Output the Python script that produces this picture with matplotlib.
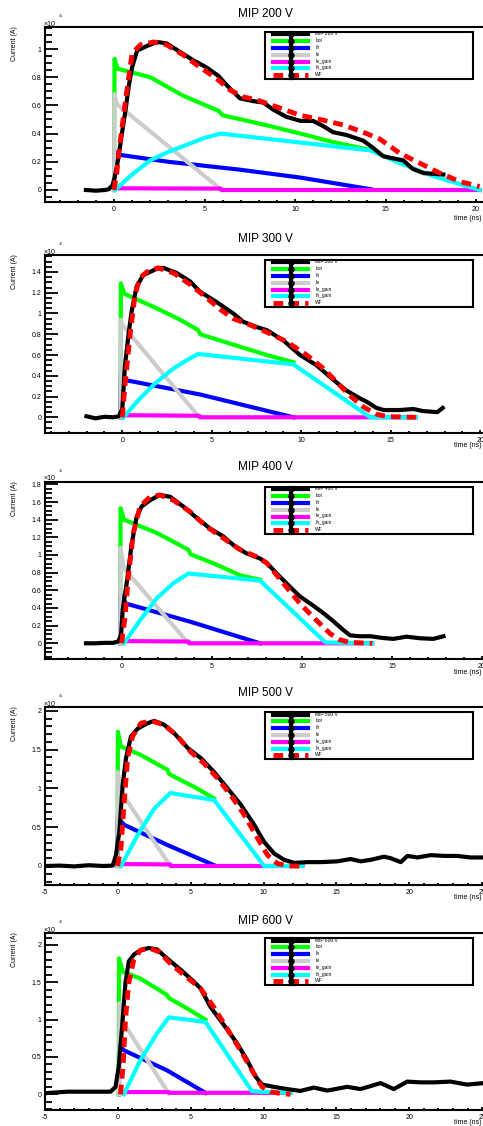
import matplotlib
matplotlib.use('Agg')
import matplotlib.pyplot as plt
from matplotlib.ticker import MultipleLocator, AutoMinorLocator, FuncFormatter
from matplotlib.lines import Line2D
from matplotlib.patches import Rectangle

plt.rcParams['font.family'] = ['Liberation Sans', 'DejaVu Sans']
plt.rcParams['axes.unicode_minus'] = False

# ---------------- data (time in ns, current in 1e-6 A) ----------------
legend_labels = ['Itot', 'Ih', 'Ie', 'Ie_gain', 'Ih_gain', 'WF']

# 200 V
mip200_t = [-1.55, -1.0, -0.5, -0.3, -0.1, 0.0, 0.15, 0.28, 0.45, 0.64, 0.82, 1.0, 1.28, 1.8, 2.36, 2.9, 3.64, 4.38, 5.1,
            5.76, 6.4, 6.96, 7.7, 8.25, 8.8, 9.5, 10.3, 11.0, 11.6, 12.1, 12.85, 13.77, 14.3, 14.87, 15.2, 15.98, 16.5,
            17.1, 17.6, 18.2]
mip200_v = [0.0, -0.005, 0.0, 0.005, 0.03, 0.07, 0.16, 0.26, 0.41, 0.57, 0.74, 0.87, 0.99, 1.02, 1.05, 1.04, 0.98, 0.92,
            0.87, 0.81, 0.72, 0.65, 0.63, 0.62, 0.57, 0.52, 0.49, 0.49, 0.45, 0.41, 0.39, 0.35, 0.30, 0.24, 0.23, 0.21,
            0.15, 0.12, 0.115, 0.11]
wf200_t = [0.0, 0.15, 0.33, 0.64, 1.0, 1.46, 2.2, 2.9, 3.8, 4.7, 5.67, 6.4, 7.15, 7.88, 8.98, 10.28, 11.4, 12.7, 13.96,
           14.7, 15.8, 16.9, 18.0, 19.1, 20.2]
wf200_v = [0.0, 0.12, 0.33, 0.64, 0.97, 1.03, 1.05, 1.03, 0.96, 0.875, 0.79, 0.71, 0.66, 0.64, 0.59, 0.53, 0.50, 0.46,
           0.40, 0.36, 0.26, 0.19, 0.12, 0.06, 0.025]
itot200_t = [0.0, 0.03, 0.2, 2.0, 3.8, 5.8, 6.0, 8.4, 10.3, 12.1, 14.3]
itot200_v = [0.0, 0.93, 0.86, 0.80, 0.67, 0.56, 0.53, 0.46, 0.40, 0.34, 0.28]
ih200_t = [0.0, 0.03, 0.28, 3.0, 6.9, 10.3, 14.2]
ih200_v = [0.0, 0.27, 0.25, 0.20, 0.145, 0.088, 0.005]
ie200_t = [0.0, 0.03, 0.15, 5.95]
ie200_v = [0.0, 0.68, 0.61, 0.0]
iegain200_t = [0.1, 5.9, 5.95, 20.2]
iegain200_v = [0.012, 0.01, 0.0, 0.0]
ihgain200_t = [0.05, 1.0, 2.0, 3.0, 4.0, 5.0, 5.9, 14.2, 15.8, 17.6, 20.2]
ihgain200_v = [0.0, 0.11, 0.21, 0.27, 0.32, 0.37, 0.40, 0.28, 0.19, 0.10, 0.0]

# 300 V
mip300_t = [-2.0, -1.5, -1.0, -0.5, -0.2, 0.0, 0.15, 0.35, 0.52, 0.8, 1.17, 1.92, 2.29, 3.04, 3.78, 4.34, 5.27, 6.2,
            6.76, 7.5, 8.07, 9.0, 9.93, 10.86, 11.8, 12.5, 13.3, 13.65, 14.2, 14.6, 15.5, 16.26, 16.8, 17.6, 17.9]
mip300_v = [0.01, -0.01, 0.005, 0.0, 0.01, 0.08, 0.50, 0.80, 1.02, 1.26, 1.37, 1.43, 1.44, 1.39, 1.31, 1.21, 1.11, 1.0,
            0.92, 0.87, 0.84, 0.74, 0.60, 0.50, 0.36, 0.26, 0.18, 0.15, 0.09, 0.07, 0.07, 0.08, 0.06, 0.05, 0.09]
wf300_t = [0.0, 0.15, 0.43, 0.71, 0.98, 1.36, 2.0, 2.86, 3.78, 4.72, 5.46, 6.2, 7.13, 8.07, 9.18, 10.3, 11.24, 11.98,
           12.7, 13.47, 14.2, 14.8, 16.4]
wf300_v = [0.0, 0.31, 0.79, 1.18, 1.34, 1.40, 1.44, 1.39, 1.28, 1.15, 1.04, 0.95, 0.89, 0.82, 0.73, 0.60, 0.47, 0.34,
           0.21, 0.10, 0.03, 0.007, 0.0]
itot300_t = [-0.1, -0.08, 0.12, 1.92, 3.23, 4.24, 4.35, 6.2, 8.07, 9.56]
itot300_v = [0.0, 1.29, 1.19, 1.05, 0.94, 0.84, 0.80, 0.70, 0.60, 0.53]
ih300_t = [-0.1, -0.08, 0.12, 4.34, 9.56]
ih300_v = [0.0, 0.42, 0.36, 0.22, 0.0]
ie300_t = [-0.1, -0.08, 0.0, 4.3]
ie300_v = [0.0, 0.94, 0.89, 0.0]
iegain300_t = [0.1, 4.3, 4.35, 16.4]
iegain300_v = [0.02, 0.015, 0.0, 0.0]
ihgain300_t = [0.06, 0.98, 1.92, 2.86, 3.6, 4.24, 9.56, 13.85, 16.4]
ihgain300_v = [0.0, 0.18, 0.34, 0.47, 0.55, 0.61, 0.51, 0.0, 0.0]

# 400 V
mip400_t = [-2.0, -1.5, -1.0, -0.5, -0.2, -0.05, 0.04, 0.26, 0.54, 0.81, 1.09, 1.56, 2.1, 2.67, 3.4, 4.15, 4.89, 5.63,
            6.2, 6.9, 7.67, 8.04, 8.6, 9.33, 9.89, 10.6, 11.2, 11.74, 12.3, 12.67, 13.2, 13.8, 14.5, 15.07, 15.8, 16.56,
            17.3, 17.86]
mip400_v = [0.0, 0.0, 0.005, 0.005, 0.02, 0.1, 0.38, 0.68, 1.13, 1.43, 1.55, 1.62, 1.68, 1.66, 1.55, 1.42, 1.30, 1.21,
            1.11, 1.02, 0.96, 0.91, 0.79, 0.64, 0.53, 0.43, 0.34, 0.25, 0.15, 0.09, 0.08, 0.08, 0.06, 0.05, 0.075, 0.057,
            0.05, 0.08]
wf400_t = [-0.02, 0.17, 0.35, 0.63, 1.0, 1.56, 2.1, 2.85, 3.78, 4.7, 5.63, 6.56, 7.48, 8.04, 8.96, 9.89, 10.8, 11.56,
           12.1, 12.67, 13.9]
wf400_v = [0.0, 0.30, 0.75, 1.25, 1.55, 1.66, 1.68, 1.62, 1.49, 1.32, 1.19, 1.06, 0.98, 0.91, 0.68, 0.45, 0.26, 0.11,
           0.04, 0.01, 0.0]
itot400_t = [-0.1, -0.08, 0.11, 1.93, 3.69, 3.8, 5.26, 6.56, 7.67]
itot400_v = [0.0, 1.53, 1.40, 1.25, 1.06, 1.01, 0.89, 0.77, 0.72]
ih400_t = [-0.1, -0.08, 0.22, 3.78, 7.67]
ih400_v = [0.0, 0.55, 0.45, 0.245, 0.0]
ie400_t = [-0.1, -0.08, 0.11, 3.69]
ie400_v = [0.0, 1.08, 0.85, 0.0]
iegain400_t = [0.1, 3.7, 3.75, 13.9]
iegain400_v = [0.025, 0.02, 0.0, 0.0]
ihgain400_t = [0.11, 1.0, 1.93, 2.85, 3.69, 7.67, 11.3, 13.9]
ihgain400_v = [0.0, 0.26, 0.51, 0.68, 0.79, 0.71, 0.01, 0.0]

# 500 V
mip500_t = [-4.93, -4.0, -3.0, -2.0, -1.0, -0.35, -0.13, 0.1, 0.33, 0.56, 0.9, 1.36, 2.04, 2.5, 3.18, 3.87, 4.8, 5.7,
            6.61, 7.53, 8.44, 9.36, 10.04, 10.73, 11.42, 12.1, 13.02, 13.93, 15.07, 15.98, 16.67, 17.36, 18.27, 18.73,
            19.42, 19.87, 20.56, 21.47, 22.4, 23.3, 24.2, 25.1]
mip500_v = [0.0, 0.005, -0.005, 0.01, 0.0, 0.005, 0.14, 0.44, 1.04, 1.39, 1.67, 1.77, 1.84, 1.87, 1.82, 1.71, 1.52,
            1.39, 1.21, 1.0, 0.79, 0.53, 0.31, 0.16, 0.08, 0.04, 0.05, 0.05, 0.06, 0.09, 0.06, 0.08, 0.12, 0.10, 0.05,
            0.13, 0.11, 0.14, 0.13, 0.13, 0.11, 0.11]
wf500_t = [-0.02, 0.21, 0.44, 0.67, 1.01, 1.58, 2.27, 3.18, 4.1, 5.0, 5.93, 6.84, 7.76, 8.67, 9.58, 10.27, 10.96,
           11.87, 12.67]
wf500_v = [0.0, 0.23, 0.83, 1.39, 1.67, 1.84, 1.87, 1.82, 1.67, 1.47, 1.32, 1.13, 0.91, 0.66, 0.36, 0.14, 0.03, 0.0, 0.0]
itot500_t = [-0.02, 0.0, 0.21, 1.58, 3.41, 3.5, 3.87, 5.24, 6.61]
itot500_v = [0.0, 1.73, 1.54, 1.43, 1.24, 1.19, 1.15, 1.02, 0.87]
ih500_t = [-0.02, 0.0, 0.44, 3.41, 6.61]
ih500_v = [0.0, 0.62, 0.53, 0.27, 0.01]
ie500_t = [-0.02, 0.0, 0.21, 3.6]
ie500_v = [0.0, 1.21, 0.96, 0.0]
iegain500_t = [0.2, 3.6, 3.65, 12.67]
iegain500_v = [0.025, 0.02, 0.0, 0.0]
ihgain500_t = [0.21, 1.36, 2.5, 3.6, 6.61, 10.04, 12.67]
ihgain500_v = [0.0, 0.40, 0.74, 0.94, 0.85, 0.0, 0.0]

# 600 V
mip600_t = [-4.97, -3.48, -2.0, -1.0, -0.5, -0.16, 0.06, 0.29, 0.52, 0.75, 1.09, 1.55, 2.12, 2.7, 3.38, 4.3, 5.21,
            5.67, 6.36, 7.27, 8.19, 8.87, 9.44, 9.9, 10.7, 11.62, 12.53, 13.45, 14.37, 15.74, 16.65, 18.03, 18.94, 19.86,
            20.77, 21.68, 22.83, 23.97, 25.1]
mip600_v = [0.015, 0.035, 0.035, 0.035, 0.035, 0.1, 0.37, 0.9, 1.49, 1.78, 1.87, 1.93, 1.96, 1.94, 1.82, 1.67, 1.51,
            1.42, 1.17, 0.93, 0.68, 0.46, 0.24, 0.13, 0.10, 0.07, 0.045, 0.09, 0.05, 0.10, 0.07, 0.15, 0.07, 0.17, 0.16,
            0.16, 0.17, 0.13, 0.15]
wf600_t = [0.18, 0.36, 0.52, 0.75, 1.09, 1.55, 2.12, 2.81, 3.61, 4.53, 5.67, 6.58, 7.5, 8.41, 9.33, 9.9, 10.47, 11.16,
           11.85]
wf600_v = [0.0, 0.37, 1.0, 1.49, 1.80, 1.93, 1.96, 1.91, 1.75, 1.60, 1.42, 1.17, 0.88, 0.59, 0.28, 0.10, 0.036, 0.01,
           0.0]
itot600_t = [0.06, 0.08, 0.34, 1.55, 3.38, 3.5, 4.76, 6.01]
itot600_v = [0.0, 1.82, 1.64, 1.55, 1.33, 1.29, 1.15, 1.0]
ih600_t = [0.08, 0.1, 0.41, 3.38, 6.01]
ih600_v = [0.0, 0.66, 0.59, 0.32, 0.02]
ie600_t = [0.08, 0.11, 0.34, 3.5]
ie600_v = [0.0, 1.22, 0.97, 0.01]
iegain600_t = [0.22, 3.5, 3.55, 11.85]
iegain600_v = [0.03, 0.03, 0.02, 0.02]
ihgain600_t = [0.41, 1.55, 2.7, 3.5, 6.01, 9.21, 11.85]
ihgain600_v = [0.0, 0.46, 0.82, 1.03, 0.97, 0.04, 0.02]

panels_data = [
    (200, mip200_t, mip200_v, wf200_t, wf200_v, itot200_t, itot200_v, ih200_t, ih200_v, ie200_t, ie200_v,
     iegain200_t, iegain200_v, ihgain200_t, ihgain200_v),
    (300, mip300_t, mip300_v, wf300_t, wf300_v, itot300_t, itot300_v, ih300_t, ih300_v, ie300_t, ie300_v,
     iegain300_t, iegain300_v, ihgain300_t, ihgain300_v),
    (400, mip400_t, mip400_v, wf400_t, wf400_v, itot400_t, itot400_v, ih400_t, ih400_v, ie400_t, ie400_v,
     iegain400_t, iegain400_v, ihgain400_t, ihgain400_v),
    (500, mip500_t, mip500_v, wf500_t, wf500_v, itot500_t, itot500_v, ih500_t, ih500_v, ie500_t, ie500_v,
     iegain500_t, iegain500_v, ihgain500_t, ihgain500_v),
    (600, mip600_t, mip600_v, wf600_t, wf600_v, itot600_t, itot600_v, ih600_t, ih600_v, ie600_t, ie600_v,
     iegain600_t, iegain600_v, ihgain600_t, ihgain600_v),
]

# ---------------- layout (pixels) ----------------
W, H = 483, 1126
# top, bottom, x of t=0, px per ns, y of v=0, px per unit, major y step, minor intervals, title y, time label offset
layouts = [
    dict(top=27.0, bot=202.0, t0=114.0, s=18.1, v0=190.0, sv=141.0, major=0.2, nminor=4, ty=14.0, tl=16),
    dict(top=255.0, bot=432.7, t0=122.3, s=17.9, v0=417.3, sv=103.8, major=0.2, nminor=4, ty=239.0, tl=13),
    dict(top=482.0, bot=659.0, t0=122.0, s=18.0, v0=643.3, sv=88.3, major=0.2, nminor=4, ty=467.5, tl=13),
    dict(top=707.3, bot=885.0, t0=117.85, s=14.57, v0=866.0, sv=77.6, major=0.5, nminor=5, ty=693.3, tl=12.5),
    dict(top=933.3, bot=1110.0, t0=117.85, s=14.57, v0=1094.3, sv=74.65, major=0.5, nminor=5, ty=920.5, tl=12.5),
]
AX_LEFT, AX_RIGHT = 45.0, 490.0

COL = dict(mip='black', itot='#00ff00', ih='#0000ff', ie='#cccccc', iegain='#ff00ff', ihgain='#00ffff', wf='#ff0000')

fig = plt.figure(figsize=(W / 100, H / 100), dpi=100)


def fx(x):
    return x / W


def fy(y):
    return 1 - y / H


def fmt(v, pos):
    s = ('%.2f' % v).rstrip('0').rstrip('.')
    if s in ('-0', ''):
        s = '0'
    return s


LW = 3.0
for data, L in zip(panels_data, layouts):
    (volt, mt, mv, wt, wv, tt, tv, hbt, hbv, et, ev, egt, egv, hgt, hgv) = data
    ax = fig.add_axes([fx(AX_LEFT), fy(L['bot']), (AX_RIGHT - AX_LEFT) / W, (L['bot'] - L['top']) / H])
    ax.set_xlim((AX_LEFT - L['t0']) / L['s'], (AX_RIGHT - L['t0']) / L['s'])
    ax.set_ylim((L['v0'] - L['bot']) / L['sv'], (L['v0'] - L['top']) / L['sv'])

    ax.plot(tt, tv, color=COL['itot'], lw=LW, zorder=3)
    ax.plot(hbt, hbv, color=COL['ih'], lw=LW, zorder=3)
    ax.plot(et, ev, color=COL['ie'], lw=LW, zorder=3)
    ax.plot(egt, egv, color=COL['iegain'], lw=LW, zorder=3)
    ax.plot(hgt, hgv, color=COL['ihgain'], lw=LW, zorder=3)
    ax.plot(mt, mv, color=COL['mip'], lw=LW, zorder=4, solid_joinstyle='round')
    ax.plot(wt, wv, color=COL['wf'], lw=3.5, zorder=5, dashes=(2.0, 1.25))

    for sp in ('left', 'bottom', 'top'):
        ax.spines[sp].set_linewidth(1.5)
    ax.spines['right'].set_visible(False)

    ax.xaxis.set_major_locator(MultipleLocator(5))
    ax.xaxis.set_minor_locator(MultipleLocator(1))
    ax.yaxis.set_major_locator(MultipleLocator(L['major']))
    ax.yaxis.set_minor_locator(AutoMinorLocator(L['nminor']))
    ax.xaxis.set_major_formatter(FuncFormatter(fmt))
    ax.yaxis.set_major_formatter(FuncFormatter(fmt))
    ax.tick_params(axis='y', which='major', direction='in', length=9.5, width=1.3, labelsize=5, pad=2.5)
    ax.tick_params(axis='y', which='minor', direction='in', length=4.8, width=1.3)
    ax.tick_params(axis='x', which='major', direction='in', length=2.5, width=1.3, labelsize=5, pad=3)
    ax.tick_params(axis='x', which='minor', direction='in', length=1.3, width=1.3)
    ax.tick_params(top=False, right=False)

    # title
    fig.text(fx(265), fy(L['ty']), 'MIP %d V' % volt, ha='center', va='center', fontsize=8.5)
    # axis titles
    fig.text(fx(15), fy(L['top'] - 1), 'Current (A)', rotation=90, ha='center', va='top', fontsize=5)
    fig.text(fx(482), fy(L['bot'] + L['tl']), 'time (ns)', ha='right', va='center', fontsize=5)
    # exponent
    fig.text(fx(44), fy(L['top'] - 3), '\u00d710', ha='left', va='center', fontsize=5)
    fig.text(fx(58.5), fy(L['top'] - 11), '-6', ha='left', va='center', fontsize=3.2)

    # legend box (drawn by hand, ROOT style)
    bt = L['top'] + 5
    bb = L['top'] + 52
    fig.add_artist(Rectangle((fx(265), fy(bb)), (473 - 265) / W, (bb - bt) / H, transform=fig.transFigure,
                             facecolor='white', edgecolor='black', lw=1.5, zorder=10))
    labels = ['MIP %d V' % volt] + legend_labels
    keys = ['mip', 'itot', 'ih', 'ie', 'iegain', 'ihgain', 'wf']
    for i, (lab, k) in enumerate(zip(labels, keys)):
        yy = bt + 2.3 + i * 6.8
        if k == 'wf':
            ln = Line2D([fx(273), fx(308)], [fy(yy), fy(yy)], color=COL[k], lw=3.5, dashes=(2.0, 1.25),
                        transform=fig.transFigure, zorder=11)
        else:
            ln = Line2D([fx(273), fx(308)], [fy(yy), fy(yy)], color=COL[k], lw=3.0, transform=fig.transFigure,
                        zorder=11)
        fig.add_artist(ln)
        fig.add_artist(Line2D([fx(291)], [fy(yy)], marker='o', ms=3.6, color='black', lw=0,
                              transform=fig.transFigure, zorder=13))
        fig.text(fx(315), fy(yy - 0.5), lab, ha='left', va='center', fontsize=3.5, zorder=12)
    fig.add_artist(Line2D([fx(291), fx(291)], [fy(bt + 1), fy(bb - 1)], color='black', lw=3.0,
                          transform=fig.transFigure, zorder=12))

fig.savefig('out.png', dpi=100)
